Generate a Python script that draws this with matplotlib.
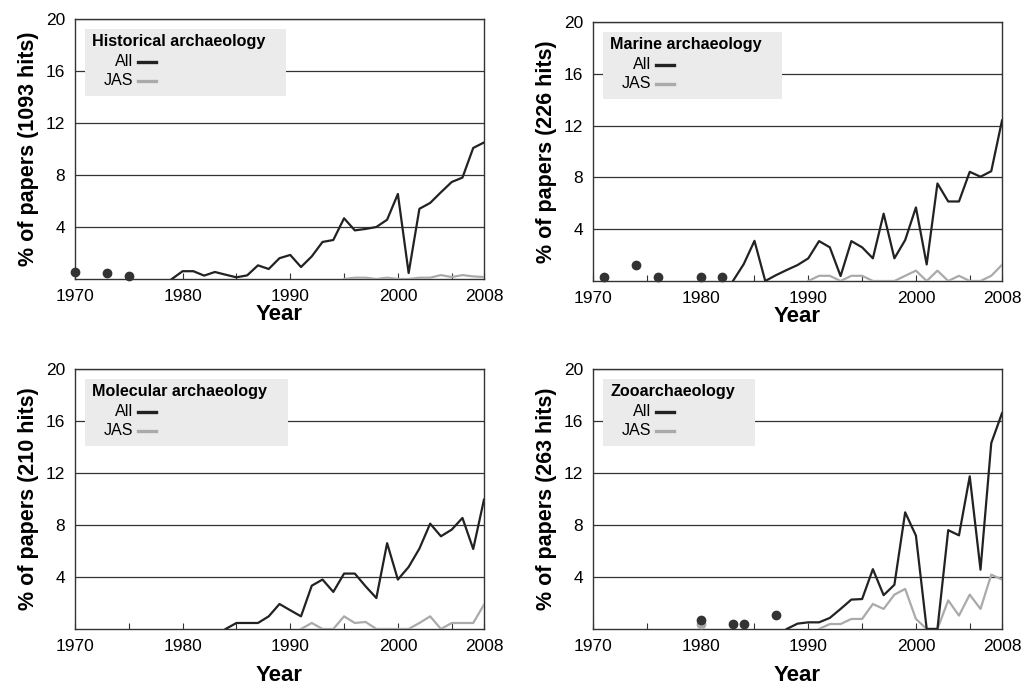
import numpy as np
import matplotlib
matplotlib.use('Agg')
import matplotlib.pyplot as plt
from matplotlib.patches import Rectangle
from matplotlib.lines import Line2D

plt.rcParams['font.family'] = ['Liberation Sans', 'DejaVu Sans']

# Historical archaeology (1093 hits)
hist_all_years = list(range(1979, 2009))
hist_all = [0, 0.6, 0.6, 0.26, 0.54, 0.33, 0.13, 0.28, 1.05, 0.77, 1.6, 1.85, 0.92, 1.74, 2.85,
            3.0, 4.67, 3.74, 3.85, 4.0, 4.56, 6.54, 0.46, 5.4, 5.85, 6.67, 7.46, 7.8, 10.08, 10.5]
hist_jas_years = list(range(1995, 2009))
hist_jas = [0, 0.1, 0.1, 0, 0.1, 0, 0, 0.1, 0.1, 0.3, 0.15, 0.3, 0.2, 0.15]
hist_dot_years = [1970, 1973, 1975]
hist_dots = [0.51, 0.46, 0.26]

# Marine archaeology (226 hits)
marine_all_years = list(range(1983, 2009))
marine_all = [0, 1.3, 3.1, 0, 0.45, 0.85, 1.23, 1.75, 3.08, 2.6, 0.38, 3.08, 2.6, 1.75, 5.2,
              1.75, 3.16, 5.68, 1.28, 7.53, 6.14, 6.14, 8.43, 8.05, 8.48, 12.4]
marine_jas_years = list(range(1990, 2009))
marine_jas = [0, 0.4, 0.4, 0, 0.4, 0.4, 0, 0, 0, 0.4, 0.8, 0, 0.8, 0, 0.4, 0, 0, 0.4, 1.25]
marine_dot_years = [1971, 1974, 1976, 1980, 1982]
marine_dots = [0.33, 1.23, 0.33, 0.33, 0.33]

# Molecular archaeology (210 hits)
mol_all_years = list(range(1984, 2009))
mol_all = [0, 0.46, 0.46, 0.46, 0.97, 1.92, 1.44, 0.97, 3.33, 3.8, 2.85, 4.26, 4.26, 3.28, 2.38,
           6.6, 3.8, 4.77, 6.18, 8.1, 7.13, 7.64, 8.54, 6.15, 9.95]
mol_jas_years = list(range(1991, 2009))
mol_jas = [0, 0.46, 0, 0, 0.97, 0.46, 0.54, 0, 0, 0, 0, 0.46, 0.97, 0, 0.46, 0.46, 0.46, 1.87]
mol_dot_years = []
mol_dots = []

# Zooarchaeology (263 hits)
zoo_all_years = list(range(1988, 2009))
zoo_all = [0, 0.41, 0.51, 0.51, 0.85, 1.54, 2.26, 2.3, 4.6, 2.6, 3.4, 8.97, 7.18, 0, 0,
           7.6, 7.2, 11.74, 4.56, 14.3, 16.6]
zoo_jas_years = list(range(1991, 2009))
zoo_jas = [0, 0.38, 0.38, 0.77, 0.77, 1.92, 1.54, 2.64, 3.08, 0.77, 0, 0, 2.2, 1.03, 2.64,
           1.54, 4.18, 3.8]
zoo_dot_years = [1980, 1983, 1984, 1987]
zoo_dots = [0.72, 0.38, 0.38, 1.1]
zoo_jas_dot_years = [1980]
zoo_jas_dots = [0.38]

titles = ['Historical archaeology', 'Marine archaeology', 'Molecular archaeology', 'Zooarchaeology']
hits = [1093, 226, 210, 263]
x_ticks = [1970, 1980, 1990, 2000, 2008]
y_ticks = [4, 8, 12, 16, 20]

panels = [
    (hist_all_years, hist_all, hist_jas_years, hist_jas, hist_dot_years, hist_dots, [], []),
    (marine_all_years, marine_all, marine_jas_years, marine_jas, marine_dot_years, marine_dots, [], []),
    (mol_all_years, mol_all, mol_jas_years, mol_jas, mol_dot_years, mol_dots, [], []),
    (zoo_all_years, zoo_all, zoo_jas_years, zoo_jas, zoo_dot_years, zoo_dots,
     zoo_jas_dot_years, zoo_jas_dots),
]

ALL_COLOR = '#222222'
JAS_COLOR = '#aaaaaa'
FRAME = '#333333'

fig = plt.figure(figsize=(10.23, 6.85), dpi=100)
positions = [
    [0.0733, 0.5927, 0.3998, 0.3796],
    [0.5797, 0.5898, 0.3998, 0.3781],
    [0.0733, 0.0818, 0.3998, 0.3796],
    [0.5797, 0.0818, 0.3998, 0.3796],
]
xlabel_pads = [0.5, 0.5, 8, 8]

axes = []
for i, (pos, data) in enumerate(zip(positions, panels)):
    ax = fig.add_axes(pos)
    axes.append(ax)
    ay, av, jy, jv, dy, dv, jdy, jdv = data

    ax.plot(jy, jv, color=JAS_COLOR, lw=1.6, zorder=3)
    ax.plot(ay, av, color=ALL_COLOR, lw=1.6, zorder=4)
    if jdy:
        ax.plot(jdy, jdv, 'o', color=JAS_COLOR, ms=6, clip_on=False, zorder=4)
    if dy:
        ax.plot(dy, dv, 'o', color='#333333', ms=6, clip_on=False, zorder=5)

    ax.set_xlim(1970, 2008)
    ax.set_ylim(0, 20)
    ax.set_xticks(x_ticks)
    ax.set_xticks([1975, 1985, 1995, 2005], minor=True)
    ax.set_yticks(y_ticks)
    ax.tick_params(axis='x', which='both', direction='in', length=4, width=0.8,
                   color=FRAME, labelsize=12.5, pad=7)
    ax.tick_params(axis='y', length=0, labelsize=12.5, pad=7)
    ax.grid(axis='y', color='#333333', lw=0.9)
    ax.set_axisbelow(True)
    for s in ax.spines.values():
        s.set_color(FRAME)
        s.set_linewidth(1.0)

    ax.set_xlabel('Year', fontsize=16, fontweight='bold', labelpad=xlabel_pads[i])
    ax.set_ylabel(f'% of papers ({hits[i]} hits)', fontsize=15.5, fontweight='bold', labelpad=5)

# legend boxes drawn by hand so the labels sit right-aligned before the line swatches
fig.canvas.draw()
renderer = fig.canvas.get_renderer()
for i, ax in enumerate(axes):
    bx = 0.025
    t = ax.text(bx + 0.017, 0.912, titles[i], transform=ax.transAxes, fontsize=11.6,
                fontweight='bold', va='center', ha='left', zorder=7)
    bb = t.get_window_extent(renderer).transformed(ax.transAxes.inverted())
    width = bb.x1 - bx + 0.05
    ax.add_patch(Rectangle((bx, 0.703), width, 0.26, transform=ax.transAxes,
                           facecolor='#ebebeb', edgecolor='none', zorder=6))
    for label, yy, col in [('All', 0.835, ALL_COLOR), ('JAS', 0.762, JAS_COLOR)]:
        ax.text(bx + 0.117, yy, label, transform=ax.transAxes, fontsize=11.6,
                va='center', ha='right', zorder=7)
        ax.add_line(Line2D([bx + 0.13, bx + 0.173], [yy, yy], transform=ax.transAxes,
                           color=col, lw=2.4, zorder=7))

plt.savefig('out.png', dpi=100)
